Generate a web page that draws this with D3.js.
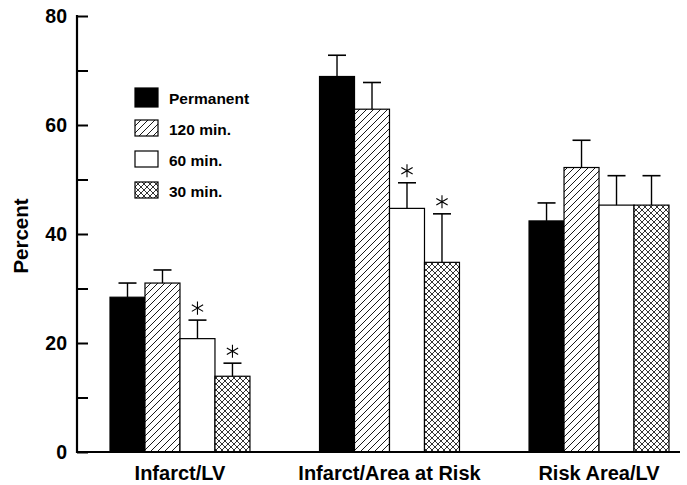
<!DOCTYPE html>
<html>
<head>
<meta charset="utf-8">
<script src="https://cdn.jsdelivr.net/npm/d3@7"></script>
<style>
  body { margin: 0; background: #fff; }
  text { font-family: "Liberation Sans", Arial, sans-serif; font-weight: bold; fill: #000; }
</style>
</head>
<body>
<div id="chart"></div>
<script>
// data (mean and SEM, percent)
const categories = ["Infarct/LV", "Infarct/Area at Risk", "Risk Area/LV"];
const groups = ["Permanent", "120 min.", "60 min.", "30 min."];
const permanent = [28.4, 68.9, 42.4];
const min120 = [31.0, 62.9, 52.2];
const min60 = [20.8, 44.7, 45.3];
const min30 = [13.9, 34.8, 45.3];
const semPermanent = [2.6, 3.9, 3.3];
const sem120 = [2.4, 4.9, 5.0];
const sem60 = [3.4, 4.7, 5.4];
const sem30 = [2.4, 8.9, 5.4];
// asterisk = significant vs permanent
const sig60 = [true, true, false];
const sig30 = [true, true, false];
const yTicks = [0, 20, 40, 60, 80];
const yMinorTicks = [10, 30, 50, 70];

const width = 687, height = 485;
const margin = { top: 16, right: 7, bottom: 33, left: 77 };

const series = [
  { name: groups[0], values: permanent, sem: semPermanent, sig: [false, false, false], fill: "#000" },
  { name: groups[1], values: min120, sem: sem120, sig: [false, false, false], fill: "url(#hatch)" },
  { name: groups[2], values: min60, sem: sem60, sig: sig60, fill: "#fff" },
  { name: groups[3], values: min30, sem: sem30, sig: sig30, fill: "url(#cross)" }
];

const svg = d3.select("#chart").append("svg")
  .attr("width", width)
  .attr("height", height);

// fill patterns
const defs = svg.append("defs");
defs.append("pattern")
  .attr("id", "hatch")
  .attr("patternUnits", "userSpaceOnUse")
  .attr("width", 7).attr("height", 7)
  .call(p => p.append("rect").attr("width", 7).attr("height", 7).attr("fill", "#fff"))
  .append("path")
  .attr("d", "M0,7L7,0M-1,1L1,-1M6,8L8,6")
  .attr("stroke", "#000").attr("stroke-width", 0.9);

defs.append("pattern")
  .attr("id", "cross")
  .attr("patternUnits", "userSpaceOnUse")
  .attr("width", 6).attr("height", 6)
  .call(p => p.append("rect").attr("width", 6).attr("height", 6).attr("fill", "#fff"))
  .append("path")
  .attr("d", "M0,6L6,0M-1,1L1,-1M5,7L7,5M0,0L6,6M-1,5L1,7M5,-1L7,1")
  .attr("stroke", "#000").attr("stroke-width", 0.8);

const y = d3.scaleLinear()
  .domain([0, 80])
  .range([height - margin.bottom, margin.top]);

const x0 = d3.scaleBand()
  .domain(categories)
  .range([110, 669])
  .paddingInner(0.332)
  .paddingOuter(0);

const x1 = d3.scaleBand()
  .domain(groups)
  .range([0, x0.bandwidth()]);

// y axis, ticks pointing inward
svg.append("g")
  .attr("transform", `translate(${margin.left},0)`)
  .call(d3.axisRight(y).tickValues(yTicks.concat(yMinorTicks)).tickSize(11).tickFormat(""))
  .call(g => g.select(".domain").remove())
  .selectAll(".tick line").attr("stroke-width", 2);

svg.append("line")
  .attr("x1", margin.left).attr("x2", margin.left)
  .attr("y1", y(80) - 1).attr("y2", y(0) + 1)
  .attr("stroke", "#000").attr("stroke-width", 2.2);

svg.append("g")
  .selectAll("text")
  .data(yTicks)
  .join("text")
  .attr("x", margin.left - 10)
  .attr("y", d => y(d))
  .attr("dy", "0.36em")
  .attr("text-anchor", "end")
  .style("font-size", "19.5px")
  .text(d => d);

svg.append("text")
  .attr("transform", `translate(28,${y(40) + 2}) rotate(-90)`)
  .attr("text-anchor", "middle")
  .style("font-size", "20.5px")
  .text("Percent");

// bars
const barGroups = svg.append("g")
  .selectAll("g")
  .data(series)
  .join("g");

barGroups.selectAll("rect")
  .data(s => s.values.map((v, i) => ({ s, v, cat: categories[i] })))
  .join("rect")
  .attr("x", d => x0(d.cat) + x1(d.s.name))
  .attr("y", d => y(d.v))
  .attr("width", x1.bandwidth())
  .attr("height", d => y(0) - y(d.v))
  .attr("fill", d => d.s.fill)
  .attr("stroke", "#000")
  .attr("stroke-width", 1.2);

// error bars (upper only)
const errs = barGroups.selectAll("g.err")
  .data(s => s.values.map((v, i) => ({ v, e: s.sem[i], sig: s.sig[i], cx: x0(categories[i]) + x1(s.name) + x1.bandwidth() / 2 })))
  .join("g")
  .attr("class", "err");

errs.append("line")
  .attr("x1", d => d.cx).attr("x2", d => d.cx)
  .attr("y1", d => y(d.v)).attr("y2", d => y(d.v + d.e))
  .attr("stroke", "#000").attr("stroke-width", 1.4);

errs.append("line")
  .attr("x1", d => d.cx - 9).attr("x2", d => d.cx + 9)
  .attr("y1", d => y(d.v + d.e)).attr("y2", d => y(d.v + d.e))
  .attr("stroke", "#000").attr("stroke-width", 1.6);

errs.filter(d => d.sig)
  .append("path")
  .attr("transform", d => `translate(${d.cx},${y(d.v + d.e) - 12})`)
  .attr("d", d3.symbol(d3.symbolAsterisk, 120))
  .attr("fill", "none")
  .attr("stroke", "#000")
  .attr("stroke-width", 1.1);

// x axis baseline
svg.append("line")
  .attr("x1", margin.left - 1).attr("x2", width - margin.right)
  .attr("y1", y(0)).attr("y2", y(0))
  .attr("stroke", "#000").attr("stroke-width", 2.2);

svg.append("g")
  .selectAll("text")
  .data(categories)
  .join("text")
  .attr("x", d => x0(d) + x0.bandwidth() / 2)
  .attr("y", height - 5)
  .attr("text-anchor", "middle")
  .style("font-size", "20px")
  .text(d => d);

// legend
const legend = svg.append("g")
  .attr("transform", "translate(135,88)");

const legendRows = legend.selectAll("g")
  .data(series)
  .join("g")
  .attr("transform", (d, i) => `translate(0,${i * 31})`);

legendRows.append("rect")
  .attr("width", 23)
  .attr("height", (d, i) => i === 0 ? 19 : 16)
  .attr("y", (d, i) => i === 0 ? 0 : 1)
  .attr("fill", d => d.fill)
  .attr("stroke", "#000")
  .attr("stroke-width", 1.2);

legendRows.append("text")
  .attr("x", 34)
  .attr("y", 16)
  .style("font-size", "15.5px")
  .text(d => d.name);
</script>
</body>
</html>
